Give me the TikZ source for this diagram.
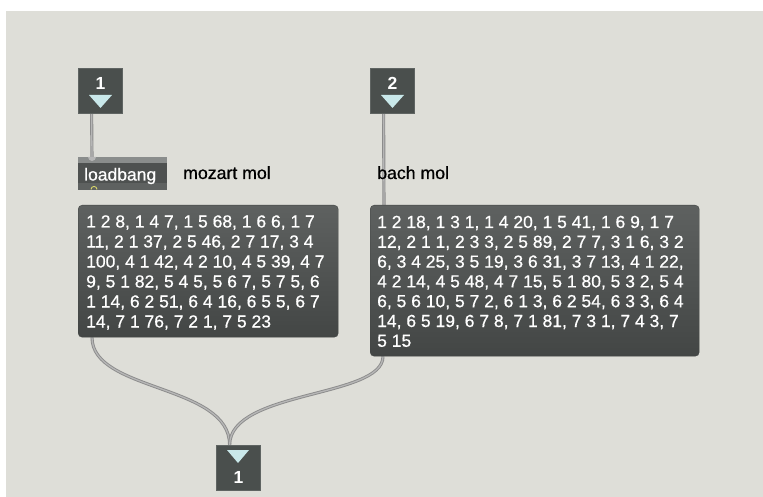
\documentclass[tikz,border=0pt]{standalone}
\usepackage{fontspec}
\setmainfont{Liberation Sans}
\newfontfamily\patchfont[FakeBold=0.6]{Liberation Sans}
\pgfdeclarelayer{back}
\pgfsetlayers{back,main}
\definecolor{canvas}{HTML}{DEDED8}
\definecolor{portfill}{HTML}{4A4F4D}
\definecolor{portedge}{HTML}{5F6462}
\definecolor{arrowtri}{HTML}{C9E8EA}
\definecolor{msgtop}{HTML}{5E6160}
\definecolor{msgbot}{HTML}{434645}
\definecolor{objfill}{HTML}{4E5150}
\definecolor{objstrip}{HTML}{8A8D8C}
\definecolor{objfoot}{HTML}{5E6160}
\definecolor{cordedge}{HTML}{8C8C8C}
\definecolor{cordcore}{HTML}{B6B6B6}
\definecolor{outletring}{HTML}{D6D36A}
\tikzset{
  port/.style={draw=portedge, fill=portfill, line width=0.8pt, minimum width=44pt,
    minimum height=45pt, inner sep=0pt},
  portnum/.style={text=white, font=\fontsize{17.5}{17.5}\selectfont\bfseries, inner sep=0pt},
  tri/.style={fill=arrowtri},
  msgbox/.style={rounded corners=4pt, top color=msgtop, bottom color=msgbot,
    draw=msgbot, inner sep=0pt, anchor=north west},
  msgline/.style={text=white, font=\patchfont\fontsize{17.5}{20}\selectfont, inner sep=0pt, anchor=base west},
  label/.style={text=black, font=\patchfont\fontsize{17.7}{20}\selectfont, inner sep=0pt, anchor=base west},
  cord/.style={draw=cordedge, line width=0.9pt, double=cordcore, double distance=1.3pt},
}
\begin{document}
\begin{tikzpicture}[x=1pt,y=-1pt]
\useasboundingbox (0,0) rectangle (763,497);

% inlets
\node[port] (in1) at (100,90.5) {};
\node[portnum] (in1n) at (100.5,83) {1};
\fill[tri] (89,95) -- (112,95) -- (100.5,108) -- cycle;
\node[port] (in2) at (392,90.5) {};
\node[portnum] (in2n) at (392.5,83) {2};
\fill[tri] (381,95) -- (404,95) -- (392.5,108) -- cycle;

% outlet
\node[port] (out1) at (238,468) {};
\node[portnum] (out1n) at (238.5,477) {1};
\fill[tri] (227,450) -- (249,450) -- (238,463) -- cycle;

% loadbang object
\node[fill=objfill, minimum width=89pt, minimum height=33pt, inner sep=0pt, anchor=north west]
  (lb) at (78,157) {};
\fill[objstrip] (lb.north west) rectangle ([yshift=-6pt]lb.north east);
\fill[objfoot] ([yshift=7pt]lb.south west) rectangle (lb.south east);
\fill[cordcore] ([xshift=10pt]lb.north west) arc[start angle=180, end angle=360, radius=4pt] -- cycle;
\draw[outletring, line width=0.9pt] ([xshift=13pt,yshift=1pt]lb.south west) arc[start angle=180, end angle=0, radius=3pt];
\node[msgline] (lbtxt) at (84,180.5) {loadbang};

% message boxes
\node[msgbox, minimum width=260pt, minimum height=132pt] (moz) at (78,205) {};
\node[msgbox, minimum width=329pt, minimum height=151pt] (bach) at (370,205) {};

% canvas and patch cords, under the boxes they connect
\begin{pgfonlayer}{back}
\fill[white] (0,0) rectangle (763,497);
\fill[canvas] (6,11) rectangle (763,497);
\draw[cord] ([xshift=14pt]in1.south west) -- ([xshift=14pt]lb.north west);
\draw[cord] ([xshift=14pt]in2.south west) -- ([xshift=14pt]bach.north west);
\draw[cord] ([xshift=14pt]moz.south west) .. controls (92,392) and (230,384) .. ([xshift=14pt]out1.north west);
\draw[cord] ([xshift=13pt]bach.south west) .. controls (383,398) and (230,390) .. ([xshift=14pt]out1.north west);
\end{pgfonlayer}

% comments
\node[label] (mozlbl) at (183,179) {mozart mol};
\node[label] (bachlbl) at (377,179) {bach mol};

% message contents
\node[msgline] (m1) at (86,227.5) {1 2 8, 1 4 7, 1 5 68, 1 6 6, 1 7};
\node[msgline] (m2) at (86,247.5) {11, 2 1 37, 2 5 46, 2 7 17, 3 4};
\node[msgline] (m3) at (86,267.5) {100, 4 1 42, 4 2 10, 4 5 39, 4 7};
\node[msgline] (m4) at (86,287.5) {9, 5 1 82, 5 4 5, 5 6 7, 5 7 5, 6};
\node[msgline] (m5) at (86,307.5) {1 14, 6 2 51, 6 4 16, 6 5 5, 6 7};
\node[msgline] (m6) at (86,327.5) {14, 7 1 76, 7 2 1, 7 5 23};

\node[msgline] (b1) at (377,228) {1 2 18, 1 3 1, 1 4 20, 1 5 41, 1 6 9, 1 7};
\node[msgline] (b2) at (377,247.8) {12, 2 1 1, 2 3 3, 2 5 89, 2 7 7, 3 1 6, 3 2};
\node[msgline] (b3) at (377,267.6) {6, 3 4 25, 3 5 19, 3 6 31, 3 7 13, 4 1 22,};
\node[msgline] (b4) at (377,287.4) {4 2 14, 4 5 48, 4 7 15, 5 1 80, 5 3 2, 5 4};
\node[msgline] (b5) at (377,307.2) {6, 5 6 10, 5 7 2, 6 1 3, 6 2 54, 6 3 3, 6 4};
\node[msgline] (b6) at (377,327) {14, 6 5 19, 6 7 8, 7 1 81, 7 3 1, 7 4 3, 7};
\node[msgline] (b7) at (377,346.8) {5 15};
\end{tikzpicture}
\end{document}
